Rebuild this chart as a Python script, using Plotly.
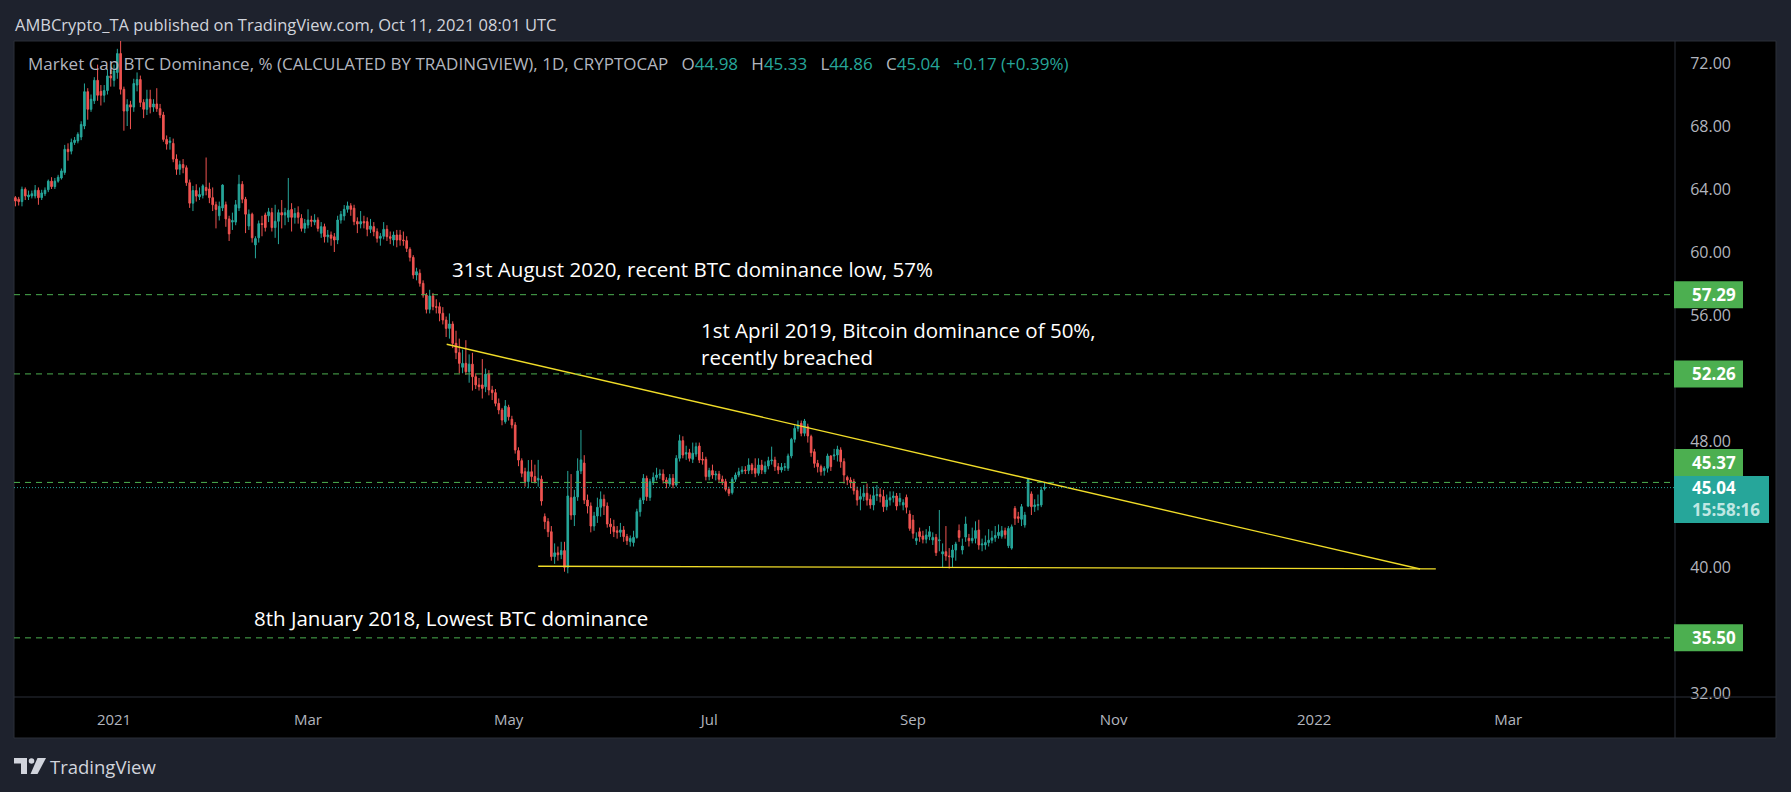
import plotly.graph_objects as go
import pandas as pd

# ---------------- data (daily candles, 2 Dec 2020 .. 11 Oct 2021) ----------------
opens = [
63.45,63.35,63.20,63.98,63.50,63.56,63.56,63.92,63.45,63.70,
63.95,64.50,64.15,64.50,64.70,65.05,66.52,66.40,66.95,67.05,
67.30,68.00,70.18,69.06,69.60,70.90,70.20,69.95,70.25,71.18,
70.90,71.40,72.60,70.33,68.95,69.35,69.20,70.60,70.95,69.50,
69.06,69.70,69.20,69.40,69.10,68.70,67.15,66.95,66.90,65.90,
65.25,65.55,65.35,64.40,63.10,63.90,63.50,63.60,64.10,64.00,
63.45,63.00,62.30,62.80,63.00,62.10,61.90,61.90,62.80,64.30,
63.35,61.65,62.40,60.45,60.90,61.80,62.35,62.30,62.50,61.55,
61.95,62.50,62.35,62.20,62.70,62.20,62.50,62.14,61.50,61.71,
62.03,61.90,62.03,61.19,61.61,60.97,61.08,60.97,60.76,62.03,
62.29,62.71,62.93,62.78,61.93,61.78,61.93,61.93,61.44,61.61,
61.29,60.87,61.00,61.44,60.97,60.76,61.08,61.08,60.76,60.72,
60.17,59.66,58.54,58.65,58.01,57.27,56.36,57.21,56.53,56.53,
56.11,55.68,55.15,55.43,54.20,53.61,52.68,52.93,52.40,52.88,
52.08,51.56,51.56,51.45,52.25,51.24,51.07,50.39,49.97,49.23,
50.14,49.38,49.02,47.39,46.75,46.05,45.42,46.05,45.74,45.52,
45.57,43.20,42.88,42.24,40.66,40.90,40.78,41.04,39.98,44.40,
43.30,44.45,46.10,46.60,44.25,43.87,42.60,43.24,43.79,44.30,
43.87,42.73,42.56,42.30,42.20,42.35,41.93,41.61,41.55,41.88,
43.51,44.25,45.63,44.42,45.42,45.69,45.84,45.90,45.52,45.27,
45.63,45.21,46.90,48.02,47.17,47.26,46.84,47.17,47.68,46.84,
46.84,45.74,46.12,45.84,45.90,45.57,45.42,44.93,44.72,45.57,
45.84,46.05,46.16,46.12,46.48,46.27,45.95,46.48,46.05,46.41,
46.75,46.79,46.37,46.16,46.33,46.27,47.05,48.11,48.80,49.12,
48.49,48.91,48.28,47.32,46.58,46.37,46.12,46.27,47.05,47.05,
47.11,47.43,46.69,45.69,45.52,45.42,44.85,44.30,44.47,44.68,
44.30,43.94,44.53,44.60,44.47,43.83,44.25,44.40,44.51,44.15,
43.94,44.42,43.36,42.98,41.67,42.24,41.97,41.76,41.93,41.72,
41.88,41.67,40.83,40.97,40.70,40.61,41.08,42.31,41.08,41.90,
41.82,41.67,41.82,42.35,41.40,41.40,41.55,41.70,41.85,42.00,
41.95,42.30,41.35,41.20,43.72,43.19,43.03,42.67,43.87,44.64,
43.83,43.90,43.94,44.98]

highs = [
63.55,63.50,64.15,64.10,63.90,63.90,64.25,64.10,63.95,64.10,
64.60,64.75,64.70,64.90,65.30,66.80,66.90,67.20,67.30,67.60,
68.30,70.70,70.40,70.00,71.10,71.90,70.60,70.60,71.60,71.60,
71.90,72.90,73.60,70.50,69.70,69.60,71.00,71.40,71.20,69.70,
70.30,70.30,69.70,70.40,69.40,68.90,67.40,67.30,67.20,66.20,
65.80,65.90,65.50,64.60,64.20,64.30,64.10,64.30,66.00,64.40,
64.10,63.20,63.20,64.30,63.20,62.30,62.50,63.30,64.90,64.50,
63.50,62.70,62.50,61.00,62.00,62.30,62.50,62.80,62.80,63.00,
62.70,63.30,62.80,64.70,63.10,62.80,62.90,62.40,62.10,62.71,
62.30,62.40,62.20,61.90,61.80,61.40,61.30,61.20,62.30,62.60,
62.98,63.20,63.10,63.00,62.20,62.60,62.30,62.20,62.10,61.90,
61.50,61.20,61.90,61.70,61.30,61.30,61.40,61.40,61.30,61.00,
60.30,59.80,59.00,58.90,58.20,57.40,57.60,57.40,57.00,56.80,
56.50,55.90,56.10,55.60,55.00,54.50,53.80,54.40,53.50,53.60,
52.30,52.00,53.20,52.60,52.50,51.50,51.30,50.70,50.10,50.60,
50.30,49.60,49.20,47.60,46.90,46.30,46.79,46.80,46.50,46.80,
45.80,43.40,43.10,42.60,41.50,41.30,41.60,41.60,46.10,45.90,
44.90,46.90,48.70,47.10,44.60,44.10,43.50,44.40,44.80,44.60,
44.10,43.10,43.00,42.60,42.80,42.60,42.10,42.00,42.30,43.70,
44.40,45.90,45.80,45.60,46.00,46.30,46.20,46.20,45.70,45.90,
45.90,47.10,48.40,48.30,47.70,47.50,47.90,47.90,47.90,47.30,
47.00,46.30,46.50,46.10,46.10,45.80,45.60,45.10,45.70,46.00,
46.30,46.40,46.40,46.90,46.60,46.90,46.90,46.80,46.70,47.00,
47.64,47.00,46.60,46.60,46.60,47.20,48.20,49.00,49.30,49.30,
49.40,49.10,48.40,47.50,46.80,46.50,46.40,47.20,47.10,47.50,
47.70,47.60,46.90,45.80,45.70,45.60,45.10,45.00,45.20,45.30,
44.60,45.10,45.20,45.00,44.90,44.60,44.80,44.80,44.70,44.70,
44.30,44.60,43.60,43.30,42.20,42.50,42.30,42.40,42.60,42.20,
42.10,43.62,41.50,42.60,41.20,41.40,41.60,42.70,41.80,43.20,
42.10,42.50,42.90,43.00,41.80,42.00,42.40,42.30,42.60,42.70,
42.60,42.50,42.60,42.70,43.87,43.50,44.00,43.50,45.65,44.80,
44.30,44.60,45.10,45.33]

lows = [
62.90,62.95,62.90,63.30,63.30,63.40,63.40,63.00,63.30,63.55,
63.80,64.00,64.00,64.40,64.60,64.90,65.80,66.20,66.80,66.90,
67.10,67.80,68.40,68.90,69.40,69.60,69.30,69.50,70.00,70.50,
70.50,71.00,70.00,67.70,68.00,67.80,68.90,70.20,69.20,68.50,
68.70,68.80,68.90,68.90,68.50,67.00,66.50,66.50,65.70,64.90,
64.90,65.00,64.20,62.80,62.60,63.20,63.30,63.40,63.60,63.10,
62.60,61.50,62.00,62.60,61.60,60.70,61.40,61.70,62.60,63.10,
61.20,61.40,60.60,59.60,60.60,61.00,61.30,61.90,61.30,60.90,
60.50,61.50,61.70,61.90,61.30,61.80,61.80,61.30,61.20,61.50,
61.60,61.70,61.30,60.90,60.60,60.60,60.40,60.00,60.50,61.80,
62.00,62.50,62.30,61.70,61.20,61.50,61.50,61.00,61.20,61.00,
60.60,60.40,60.80,60.70,60.50,60.40,60.30,60.40,60.40,60.00,
59.40,58.30,58.20,57.80,57.10,56.10,56.10,56.30,56.10,55.60,
55.40,54.60,54.50,53.90,53.20,52.30,52.30,52.20,51.70,51.20,
51.30,51.20,50.70,51.10,50.90,50.60,50.20,49.70,49.00,49.10,
49.30,48.80,47.20,46.40,45.70,45.10,45.00,45.40,45.30,45.10,
43.90,42.40,41.90,40.40,40.20,40.40,40.50,39.70,39.60,43.00,
42.60,44.20,45.90,44.00,43.40,42.20,42.30,42.80,43.20,43.30,
42.50,42.10,41.90,41.80,41.90,41.60,41.40,41.30,41.30,41.80,
43.20,44.00,44.20,44.20,45.20,45.50,45.60,45.30,45.00,45.10,
45.00,45.10,46.70,46.90,46.80,46.70,46.60,47.00,46.60,46.50,
45.50,45.50,45.60,45.50,45.40,45.20,44.80,44.50,44.60,45.40,
45.70,45.90,45.90,45.90,45.90,45.70,45.80,45.90,45.90,46.20,
46.50,46.10,45.90,46.00,46.10,46.10,46.90,47.90,48.60,48.30,
48.30,47.90,47.00,46.30,46.00,45.80,45.80,46.00,46.10,46.80,
46.70,46.30,45.30,45.20,45.00,44.60,43.90,43.60,44.20,43.90,
43.70,43.60,44.20,44.10,43.50,43.60,43.90,44.10,43.60,43.90,
43.60,43.40,42.30,41.80,41.40,41.60,41.50,41.50,41.70,41.40,
40.70,41.00,40.00,40.40,39.90,40.00,40.40,41.60,40.80,41.60,
41.30,41.50,41.50,41.10,41.00,41.10,41.30,41.50,41.60,41.80,
41.80,41.80,41.20,41.10,42.67,42.80,42.60,42.50,43.80,43.30,
43.50,43.60,43.80,44.86]

closes = [
63.24,63.20,63.98,63.56,63.62,63.70,63.92,63.45,63.75,63.92,
64.50,64.15,64.50,64.75,65.15,66.52,66.37,66.95,67.10,67.47,
68.10,70.18,69.06,69.70,70.90,69.95,69.95,70.25,71.18,71.05,
71.50,72.60,70.33,68.95,69.35,69.20,70.70,70.95,69.50,69.06,
69.70,69.20,69.40,69.10,68.70,67.15,66.85,67.05,65.90,65.25,
65.55,65.35,64.40,63.10,63.90,63.55,63.65,64.20,63.90,63.45,
63.00,62.70,62.90,64.25,62.10,61.15,62.00,63.00,64.30,63.35,
62.40,62.40,60.90,60.85,61.80,61.75,61.55,62.55,61.55,61.95,
62.50,62.35,62.50,62.65,62.20,62.45,62.20,61.50,61.82,62.03,
61.95,62.03,61.50,61.61,60.97,61.08,60.87,60.76,62.03,62.39,
62.71,62.93,62.71,61.93,61.78,61.93,61.85,61.44,61.65,61.29,
60.87,61.00,61.44,60.97,60.87,61.08,60.76,60.76,60.72,60.23,
59.66,58.54,58.75,58.01,57.27,56.36,57.21,56.53,56.49,56.11,
55.68,55.15,55.43,54.20,53.61,52.93,52.93,52.40,52.88,52.08,
51.56,51.45,51.34,52.25,51.24,51.07,50.39,49.97,49.33,50.22,
49.54,49.02,47.43,46.79,45.95,45.42,46.05,45.74,45.42,45.63,
44.19,42.88,42.24,40.66,40.90,40.78,41.04,39.98,44.51,43.30,
44.45,46.10,46.80,44.25,43.87,42.60,43.24,43.79,44.30,43.87,
42.73,42.56,42.24,42.20,42.35,41.93,41.67,41.82,41.88,43.51,
44.25,45.63,44.47,45.42,45.69,45.84,45.90,45.52,45.31,45.63,
45.21,46.90,48.02,47.11,47.26,46.90,47.22,47.64,46.79,46.79,
45.74,46.12,45.84,45.90,45.57,45.42,44.93,44.68,45.57,45.84,
46.05,46.16,46.12,46.48,46.16,45.95,46.48,46.16,46.41,46.75,
46.79,46.37,46.16,46.33,46.37,47.05,48.11,48.80,49.02,48.49,
49.27,48.32,47.26,46.58,46.37,46.05,46.27,47.05,46.37,47.11,
47.47,46.69,45.84,45.52,45.35,44.85,44.25,44.47,44.68,44.25,
43.94,44.53,44.60,44.47,43.83,44.25,44.40,44.51,43.87,44.36,
44.09,43.79,42.45,42.14,41.82,41.93,41.76,42.03,42.24,41.88,
40.91,41.72,40.97,40.70,40.66,41.08,41.46,41.88,41.33,42.73,
41.67,41.82,42.31,41.40,41.46,41.55,41.70,41.85,42.00,42.20,
42.30,42.05,42.45,42.55,43.09,43.09,43.83,43.30,45.57,43.83,
43.94,43.97,44.89,45.04]

first_day = "2020-12-02"
dates = pd.date_range(first_day, periods=len(closes), freq="D")

# horizontal levels drawn on the chart
level_values = [57.29, 52.26, 45.37, 35.50]
level_labels = ["57.29", "52.26", "45.37", "35.50"]
last_price = 45.04
last_label = "45.04"
countdown = "15:58:16"

# trend lines (two anchor points each)
desc_x = ["2021-04-12 04:00", "2022-02-02 05:00"]
desc_y = [54.14, 39.87]
flat_x = ["2021-05-10 00:00", "2022-02-07 00:00"]
flat_y = [40.05, 39.88]

# axes (ticks hidden behind the price labels in the reference are left out)
y_ticks = [32, 40, 48, 56, 60, 64, 68, 72]
x_tick_dates = ["2021-01-01", "2021-03-01", "2021-05-01", "2021-07-01",
                "2021-09-01", "2021-11-01", "2022-01-01", "2022-03-01"]
x_tick_text = ["2021", "Mar", "May", "Jul", "Sep", "Nov", "2022", "Mar"]

ohlc_text = [("O", "44.98"), ("H", "45.33"), ("L", "44.86"), ("C", "45.04")]
change_text = "+0.17 (+0.39%)"

notes = [
    ("31st August 2020, recent BTC dominance low, 57%", "2021-04-13 04:00", 58.92),
    ("1st April 2019, Bitcoin dominance of 50%,<br>recently breached", "2021-06-27 21:00", 54.19),
    ("8th January 2018, Lowest BTC dominance", "2021-02-12 02:00", 36.76),
]

# ---------------- layout geometry ----------------
W, H = 1791, 792
L, R, T, B = 14, 1675, 41, 697
FONT = "Open Sans"
GREEN = "#4caf50"
TEAL = "#26a69a"
RED = "#ef5350"
GRAY = "#b2b5be"
BORDER = "#2a2e39"


def px(x):
    return (x - L) / (R - L)


def py(y):
    return (B - y) / (B - T)


fig = go.Figure()

fig.add_trace(go.Candlestick(
    x=dates, open=opens, high=highs, low=lows, close=closes,
    increasing=dict(line=dict(color=TEAL, width=1), fillcolor=TEAL),
    decreasing=dict(line=dict(color=RED, width=1), fillcolor=RED),
    whiskerwidth=0, hoverinfo="skip", showlegend=False,
))

for xs, ys in [(desc_x, desc_y), (flat_x, flat_y)]:
    fig.add_trace(go.Scatter(x=xs, y=ys, mode="lines",
                             line=dict(color="#f0dc28", width=1.4),
                             hoverinfo="skip", showlegend=False))

shapes = []
# black panel
shapes.append(dict(type="rect", xref="paper", yref="paper",
                   x0=px(14), x1=px(1776), y0=py(738), y1=py(41),
                   fillcolor="#000000", line=dict(color=BORDER, width=1),
                   layer="below"))
# dashed level lines
for v in level_values:
    shapes.append(dict(type="line", xref="paper", yref="y", x0=0, x1=1, y0=v, y1=v,
                       line=dict(color=GREEN, width=1, dash="6px,5px"), layer="above"))
# dotted last price line
shapes.append(dict(type="line", xref="paper", yref="y", x0=0, x1=1,
                   y0=last_price, y1=last_price,
                   line=dict(color=TEAL, width=1, dash="1px,2px"), layer="above"))
# dividers
shapes.append(dict(type="line", xref="paper", yref="paper", x0=px(1675), x1=px(1675),
                   y0=py(738), y1=py(41), line=dict(color=BORDER, width=1), layer="above"))
shapes.append(dict(type="line", xref="paper", yref="paper", x0=px(14), x1=px(1776),
                   y0=py(697), y1=py(697), line=dict(color=BORDER, width=1), layer="above"))

label_shift = {45.37: 20}
for v in level_values:
    s = label_shift.get(v, 0)
    shapes.append(dict(type="rect", xref="paper", yref="y", ysizemode="pixel",
                       yanchor=v, x0=px(1674), x1=px(1743), y0=-13.5 + s, y1=13.5 + s,
                       fillcolor=GREEN, line=dict(width=0), layer="above"))
shapes.append(dict(type="rect", xref="paper", yref="y", ysizemode="pixel",
                   yanchor=last_price, x0=px(1674), x1=px(1769), y0=-35.4, y1=11.6,
                   fillcolor=TEAL, line=dict(width=0), layer="above"))

# TradingView logo glyph
def path(points):
    return "M " + " L ".join(f"{px(x)},{py(y)}" for x, y in points) + " Z"

logo_col = "#d1d4dc"
shapes.append(dict(type="path", xref="paper", yref="paper",
                   path=path([(14, 758), (27, 758), (27, 774), (21, 774), (21, 763.5), (14, 763.5)]),
                   fillcolor=logo_col, line=dict(width=0), layer="above"))
shapes.append(dict(type="circle", xref="paper", yref="paper",
                   x0=px(28.7), x1=px(34.3), y0=py(763.8), y1=py(758.2),
                   fillcolor=logo_col, line=dict(width=0), layer="above"))
shapes.append(dict(type="path", xref="paper", yref="paper",
                   path=path([(37.5, 758), (46, 758), (37.5, 774), (30.5, 774)]),
                   fillcolor=logo_col, line=dict(width=0), layer="above"))

ann = []
ann.append(dict(text="AMBCrypto_TA published on TradingView.com, Oct 11, 2021 08:01 UTC",
                xref="paper", yref="paper", x=px(13), y=py(24), xanchor="left", yanchor="middle",
                showarrow=False, font=dict(family=FONT, size=16.5, color="#d1d4dc")))

legend = "Market Cap BTC Dominance, % (CALCULATED BY TRADINGVIEW), 1D, CRYPTOCAP"
for k, val in ohlc_text:
    legend += f"\u00a0\u00a0 {k}<span style='color:{TEAL}'>{val}</span>"
legend += f"\u00a0\u00a0 <span style='color:{TEAL}'>{change_text}</span>"
ann.append(dict(text=legend, xref="paper", yref="paper", x=px(26), y=py(63),
                xanchor="left", yanchor="middle", showarrow=False,
                font=dict(family=FONT, size=17, color=GRAY)))

for txt, xd, yv in notes:
    ann.append(dict(text=txt, xref="x", yref="y", x=xd, y=yv, xanchor="left",
                    yanchor="middle", align="left", showarrow=False,
                    font=dict(family=FONT, size=20.5, color="#ffffff")))

for v, t in zip(level_values, level_labels):
    ann.append(dict(text=f"<b>{t}</b>", xref="paper", yref="y", x=px(1690), y=v,
                    yshift=label_shift.get(v, 0), xanchor="left", yanchor="middle",
                    showarrow=False, font=dict(family=FONT, size=17, color="#ffffff")))
ann.append(dict(text=f"<b>{last_label}</b>", xref="paper", yref="y", x=px(1690), y=last_price,
                xanchor="left", yanchor="middle", showarrow=False,
                font=dict(family=FONT, size=17, color="#ffffff")))
ann.append(dict(text=f"<b>{countdown}</b>", xref="paper", yref="y", x=px(1690), y=last_price,
                yshift=-22, xanchor="left", yanchor="middle", showarrow=False,
                font=dict(family=FONT, size=17, color="rgba(235,250,248,0.8)")))

ann.append(dict(text="TradingView", xref="paper", yref="paper", x=px(48), y=py(766),
                xanchor="left", yanchor="middle", showarrow=False,
                font=dict(family=FONT, size=18.5, color=logo_col)))

fig.update_layout(
    width=W, height=H,
    margin=dict(l=L, r=W - R, t=T, b=H - B, pad=0),
    paper_bgcolor="#1e222d", plot_bgcolor="#000000",
    showlegend=False, hovermode=False,
    shapes=shapes, annotations=ann,
    xaxis=dict(type="date", range=["2020-12-01 13:47", "2022-04-20 17:46"],
               tickvals=x_tick_dates, ticktext=x_tick_text,
               showgrid=False, zeroline=False, showline=False,
               ticks="outside", ticklen=9, tickcolor="rgba(0,0,0,0)",
               tickfont=dict(family=FONT, size=15, color=GRAY),
               rangeslider=dict(visible=False), fixedrange=True),
    yaxis=dict(range=[31.746, 73.397], side="right",
               tickvals=y_ticks, ticktext=[f"{v:.2f}" for v in y_ticks],
               showgrid=False, zeroline=False, showline=False,
               ticks="outside", ticklen=11, tickcolor="rgba(0,0,0,0)",
               tickfont=dict(family=FONT, size=16, color=GRAY), fixedrange=True),
)

fig.write_html("out.html", config={"displayModeBar": False})
